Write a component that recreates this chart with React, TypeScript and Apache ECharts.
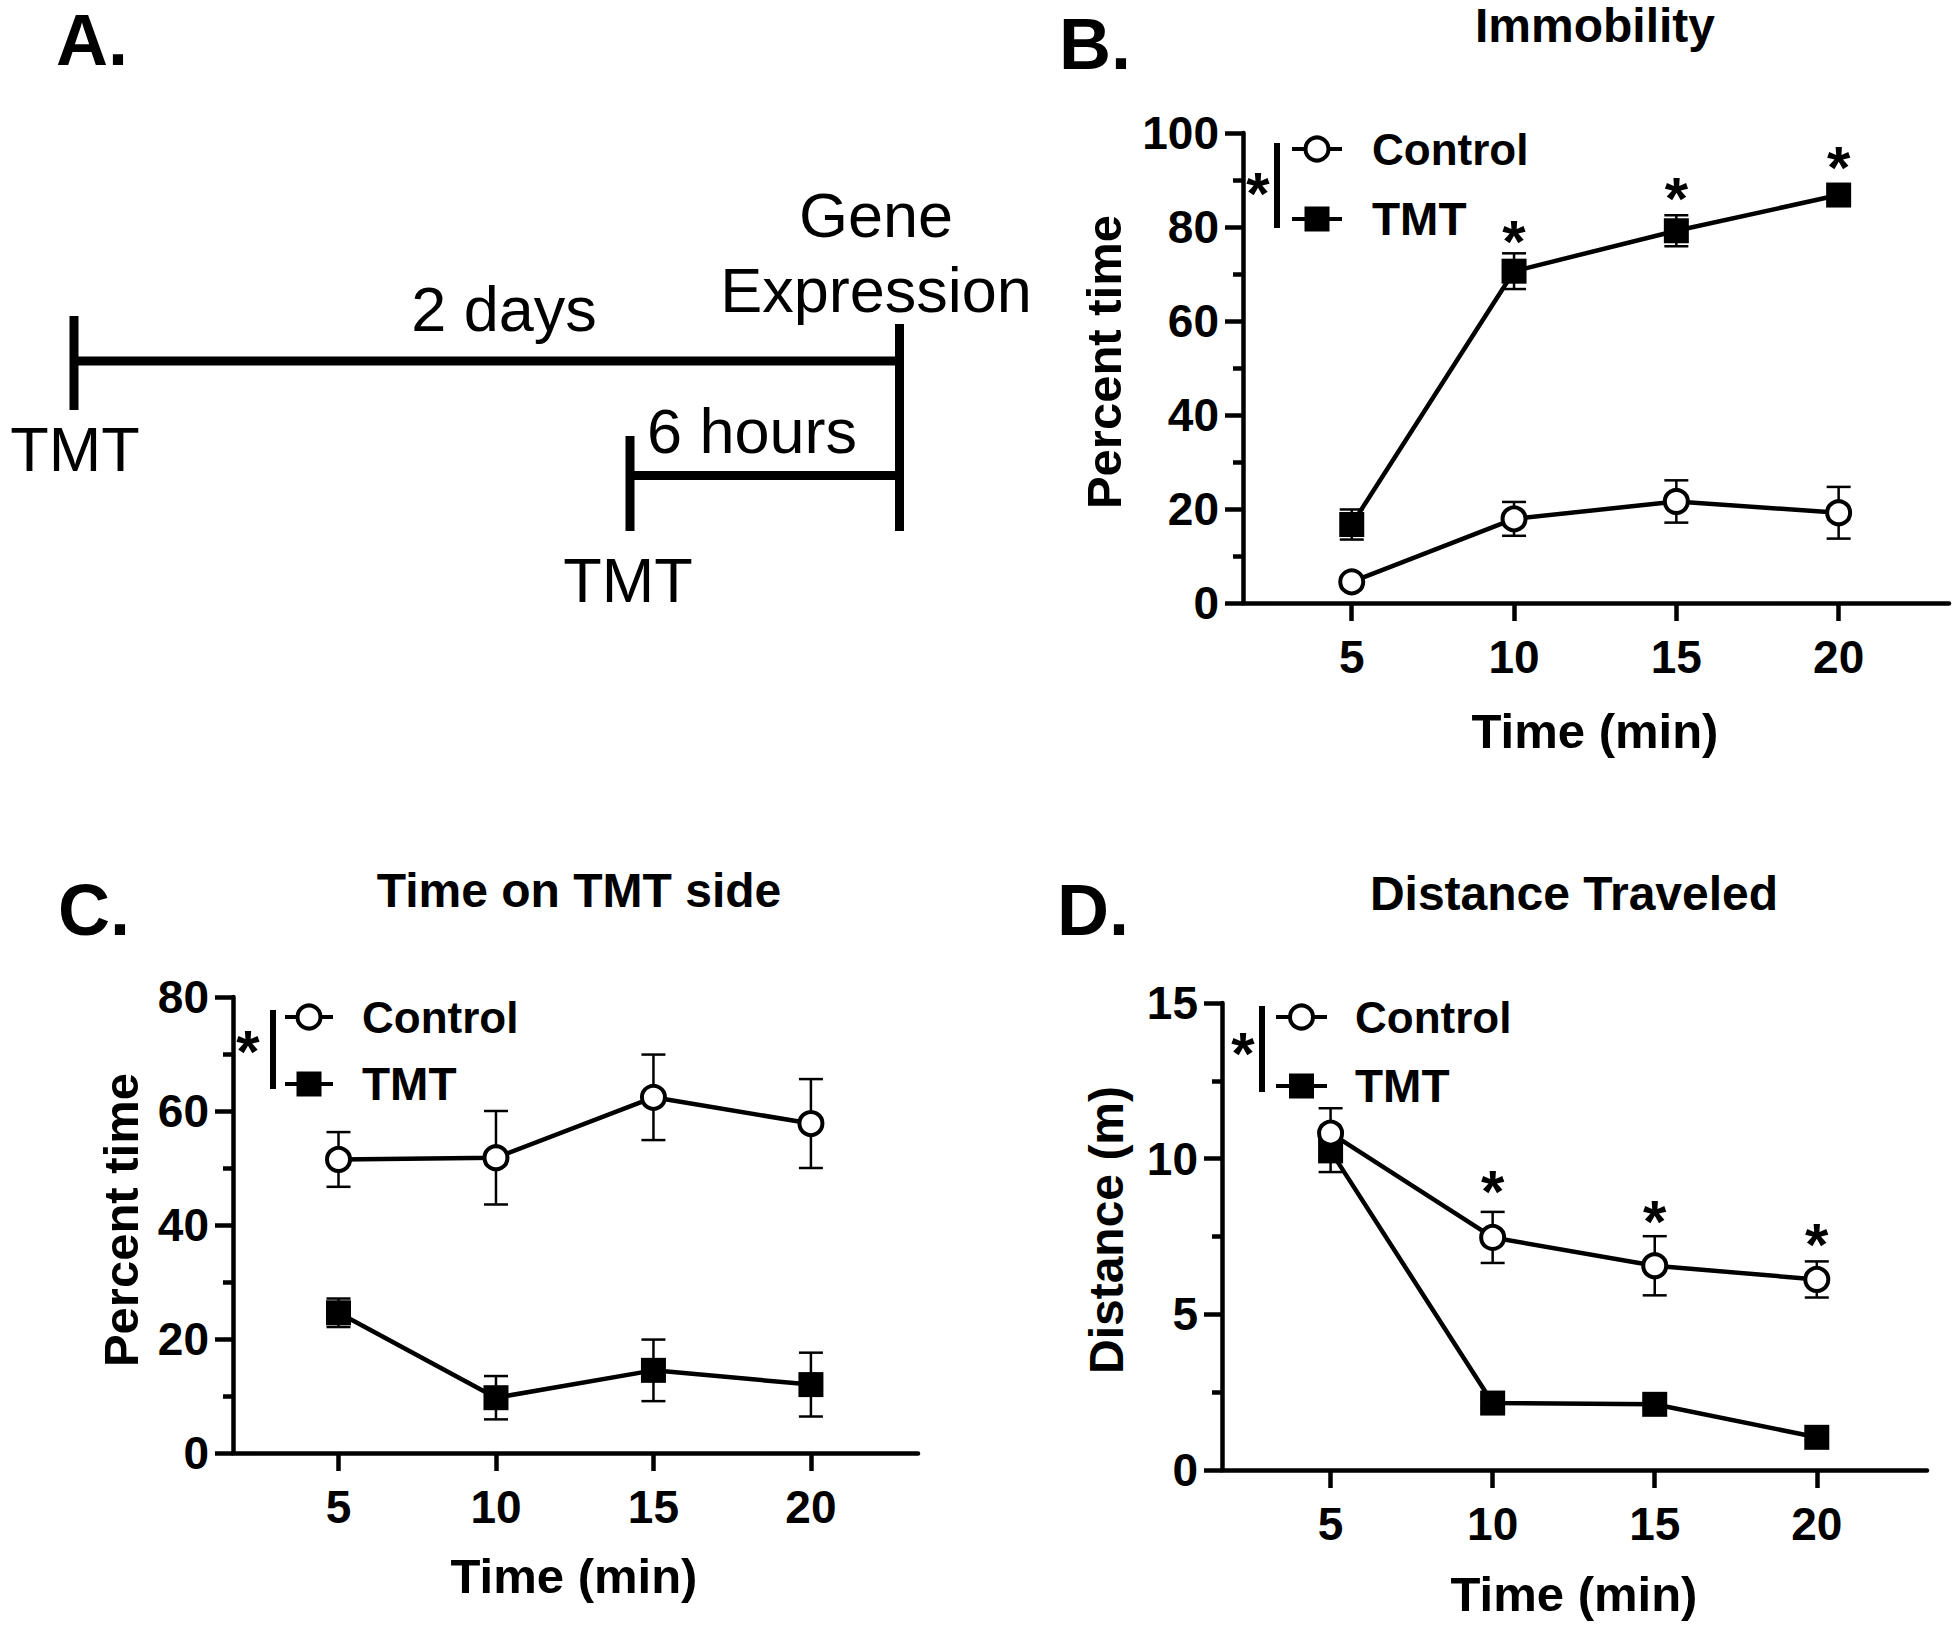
import React, { useEffect, useRef } from "react";
import * as echarts from "echarts";

// ---------- data ----------
const timePoints = [5, 10, 15, 20];
const xTicks = [5, 10, 15, 20];

// B. Immobility (percent time)
const immControl = [4.5, 17.9, 21.6, 19.2];
const immControlErr = [1.0, 3.6, 4.5, 5.5];
const immTMT = [16.7, 70.6, 79.2, 86.8];
const immTMTErr = [3.2, 3.8, 3.3, 1.5];
const immStarX = [10, 15, 20];
const immStarY = [78.7, 87.7, 94.3];
const immYTicks = { min: 0, max: 100, interval: 20 };

// C. Time on TMT side (percent time)
const sideControl = [51.5, 51.8, 62.4, 57.8];
const sideControlErr = [4.8, 8.2, 7.5, 7.8];
const sideTMT = [24.6, 9.7, 14.5, 12.0];
const sideTMTErr = [2.5, 3.8, 5.4, 5.6];
const sideYTicks = { min: 0, max: 80, interval: 20 };

// D. Distance traveled (m)
const distControl = [10.82, 7.47, 6.56, 6.12];
const distControlErr = [0.8, 0.82, 0.95, 0.58];
const distTMT = [10.25, 2.15, 2.11, 1.05];
const distTMTErr = [0.68, 0.15, 0.15, 0.1];
const distStarX = [10, 15, 20];
const distStarY = [9.2, 8.23, 7.5];
const distYTicks = { min: 0, max: 15, interval: 5 };

const xRange = { min: 1.65, max: 23.4 };

const FONT = "'Liberation Sans', Arial, Helvetica, sans-serif";
const STAR_SIZE = 60;
const STAR_OFFSET = 8;

const pts = (ys: number[]) => timePoints.map((x, i) => [x, ys[i]]);
const errRows = (ys: number[], es: number[]) =>
  timePoints.map((x, i) => [x, ys[i] - es[i], ys[i] + es[i]]);
const starPts = (xs: number[], ys: number[]) => xs.map((x, i) => [x, ys[i]]);

function errRender(_params: any, api: any) {
  const x = api.value(0);
  const lo = api.value(1);
  const hi = api.value(2);
  const p1 = api.coord([x, hi]);
  const p2 = api.coord([x, lo]);
  const hw = 12;
  const style = { stroke: "#000", lineWidth: 2.5 };
  return {
    type: "group",
    children: [
      { type: "line", shape: { x1: p1[0], y1: p1[1], x2: p2[0], y2: p2[1] }, style },
      { type: "line", shape: { x1: p1[0] - hw, y1: p1[1], x2: p1[0] + hw, y2: p1[1] }, style },
      { type: "line", shape: { x1: p2[0] - hw, y1: p2[1], x2: p2[0] + hw, y2: p2[1] }, style },
    ],
  };
}

function txt(text: string, x: number, y: number, size: number, bold = true, rotate = false, align = "center") {
  return {
    type: "text",
    x,
    y,
    rotation: rotate ? Math.PI / 2 : 0,
    silent: true,
    style: {
      text,
      fill: "#000",
      fontSize: size,
      fontWeight: bold ? "bold" : "normal",
      fontFamily: FONT,
      align,
      verticalAlign: "middle",
    },
  };
}

function ln(x1: number, y1: number, x2: number, y2: number, w: number) {
  return {
    type: "line",
    silent: true,
    shape: { x1, y1, x2, y2 },
    style: { stroke: "#000", lineWidth: w, lineCap: "butt" },
  };
}

function legend(barX: number, barY1: number, barY2: number, starX: number, starY: number,
  row1: number, row2: number, lx1: number, lx2: number, textX: number) {
  const mx = (lx1 + lx2) / 2;
  return [
    { type: "rect", silent: true, shape: { x: barX - 3, y: barY1, width: 6, height: barY2 - barY1 }, style: { fill: "#000" } },
    txt("*", starX, starY + STAR_OFFSET, STAR_SIZE, true),
    ln(lx1, row1, lx2, row1, 4),
    { type: "circle", silent: true, shape: { cx: mx, cy: row1, r: 11.5 }, style: { fill: "#fff", stroke: "#000", lineWidth: 4 } },
    txt("Control", textX, row1, 44, true, false, "left"),
    ln(lx1, row2, lx2, row2, 4),
    { type: "rect", silent: true, shape: { x: mx - 12.5, y: row2 - 12.5, width: 25, height: 25 }, style: { fill: "#000" } },
    txt("TMT", textX, row2, 46, true, false, "left"),
  ];
}

const grids = [
  { left: 1243, top: 133, width: 706, height: 470 }, // B
  { left: 233, top: 997, width: 685, height: 456 }, // C
  { left: 1222, top: 1003, width: 705, height: 467 }, // D
];

const axisLineStyle = { color: "#000", width: 4.5 };

function makeX(i: number) {
  return {
    type: "value",
    gridIndex: i,
    min: xRange.min,
    max: xRange.max,
    axisLine: { show: true, onZero: false, lineStyle: axisLineStyle },
    axisTick: { show: true, length: 18, lineStyle: { color: "#000", width: 4.5 }, customValues: xTicks },
    axisLabel: {
      show: true,
      customValues: xTicks,
      margin: 31,
      fontSize: 46,
      lineHeight: 46,
      fontWeight: "bold",
      fontFamily: FONT,
      color: "#000",
    },
    splitLine: { show: false },
  };
}

function makeY(i: number, t: { min: number; max: number; interval: number }) {
  return {
    type: "value",
    gridIndex: i,
    min: t.min,
    max: t.max,
    interval: t.interval,
    axisLine: { show: true, lineStyle: axisLineStyle },
    axisTick: { show: true, length: 18, lineStyle: { color: "#000", width: 4.5 } },
    minorTick: { show: true, splitNumber: 2, length: 10, lineStyle: { color: "#000", width: 4.5 } },
    axisLabel: {
      show: true,
      margin: 24,
      fontSize: 46,
      lineHeight: 46,
      fontWeight: "bold",
      fontFamily: FONT,
      color: "#000",
    },
    splitLine: { show: false },
    minorSplitLine: { show: false },
  };
}

function seriesFor(i: number, ctrl: number[], ctrlErr: number[], tmt: number[], tmtErr: number[], stars?: number[][]) {
  const out: any[] = [
    {
      type: "custom", name: "TMT SEM", xAxisIndex: i, yAxisIndex: i, silent: true, z: 1,
      renderItem: errRender, encode: { x: 0, y: [1, 2] }, data: errRows(tmt, tmtErr),
    },
    {
      type: "custom", name: "Control SEM", xAxisIndex: i, yAxisIndex: i, silent: true, z: 1,
      renderItem: errRender, encode: { x: 0, y: [1, 2] }, data: errRows(ctrl, ctrlErr),
    },
    {
      type: "line", name: "TMT", xAxisIndex: i, yAxisIndex: i, z: 2,
      data: pts(tmt), symbol: "rect", symbolSize: 25,
      itemStyle: { color: "#000", borderWidth: 0 },
      lineStyle: { color: "#000", width: 4.5 },
    },
    {
      type: "line", name: "Control", xAxisIndex: i, yAxisIndex: i, z: 3,
      data: pts(ctrl), symbol: "circle", symbolSize: 23,
      itemStyle: { color: "#fff", borderColor: "#000", borderWidth: 4 },
      lineStyle: { color: "#000", width: 4.5 },
    },
  ];
  if (stars) {
    out.push({
      type: "scatter", name: "sig", xAxisIndex: i, yAxisIndex: i, z: 4, silent: true,
      data: stars, symbol: "circle", symbolSize: 0.01, itemStyle: { color: "#000", opacity: 1 },
      label: {
        show: true, position: "inside", formatter: "*", fontSize: STAR_SIZE, fontWeight: "bold",
        color: "#000", opacity: 1, textBorderWidth: 0, fontFamily: FONT, offset: [0, STAR_OFFSET],
      },
    });
  }
  return out;
}

export default function App() {
  const ref = useRef<HTMLDivElement>(null);
  useEffect(() => {
    if (!ref.current) return;
    const chart = echarts.init(ref.current, null, { renderer: "svg" });

    const graphics: any[] = [
      // Panel A timeline
      ln(74, 361, 900, 361, 9),
      ln(74, 316, 74, 410, 9),
      ln(899.5, 324, 899.5, 531, 9),
      ln(630, 475.5, 900, 475.5, 9),
      ln(630, 436, 630, 531, 9),
      txt("TMT", 75, 449, 63, false),
      txt("TMT", 628, 580, 63, false),
      txt("2 days", 504, 309, 63, false),
      txt("6 hours", 752, 431, 63, false),
      txt("Gene", 876, 215, 63, false),
      txt("Expression", 876, 290, 63, false),
      // Panel letters
      txt("A.", 92, 40, 72),
      txt("B.", 1095, 44, 72),
      txt("C.", 94, 910, 72),
      txt("D.", 1093, 910, 72),
      // Titles
      txt("Immobility", 1595, 25, 48),
      txt("Time on TMT side", 579, 890, 48),
      txt("Distance Traveled", 1574, 893, 48),
      // Axis names
      txt("Percent time", 1104, 362, 49, true, true),
      txt("Time (min)", 1595, 731, 49),
      txt("Percent time", 121, 1220, 49, true, true),
      txt("Time (min)", 574, 1576, 49),
      txt("Distance (m)", 1106, 1230, 48, true, true),
      txt("Time (min)", 1574, 1594, 49),
      // Legends
      ...legend(1277, 143, 228, 1258, 185, 149, 219, 1292, 1342, 1372),
      ...legend(273, 1010, 1089, 248, 1043, 1017, 1084, 285, 333, 362),
      ...legend(1262, 1006, 1092, 1243, 1045, 1017, 1086, 1276, 1327, 1355),
    ];

    chart.setOption({
      animation: false,
      backgroundColor: "#fff",
      grid: grids,
      xAxis: [makeX(0), makeX(1), makeX(2)],
      yAxis: [makeY(0, immYTicks), makeY(1, sideYTicks), makeY(2, distYTicks)],
      series: [
        ...seriesFor(0, immControl, immControlErr, immTMT, immTMTErr, starPts(immStarX, immStarY)),
        ...seriesFor(1, sideControl, sideControlErr, sideTMT, sideTMTErr),
        ...seriesFor(2, distControl, distControlErr, distTMT, distTMTErr, starPts(distStarX, distStarY)),
      ],
      graphic: graphics,
    });
    return () => chart.dispose();
  }, []);
  return (
    <div
      ref={ref}
      style={{ position: "absolute", left: 0, top: 0, width: 1955, height: 1632, background: "#fff" }}
    />
  );
}
